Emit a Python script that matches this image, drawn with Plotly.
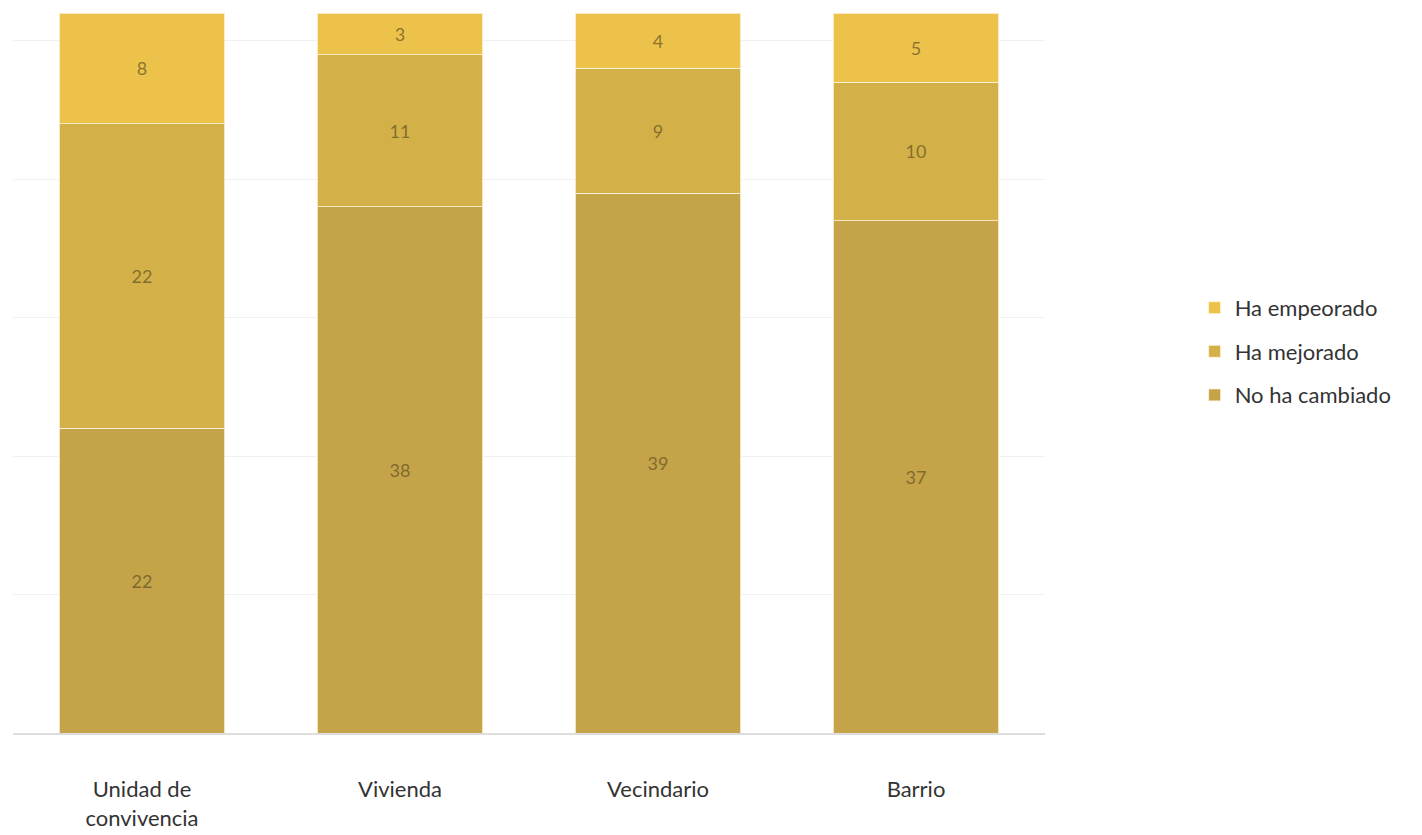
import plotly.graph_objects as go

categories = ["Unidad de<br>convivencia", "Vivienda", "Vecindario", "Barrio"]
no_ha_cambiado = [22, 38, 39, 37]
ha_mejorado = [22, 11, 9, 10]
ha_empeorado = [8, 3, 4, 5]

# stacked bottom to top; legend lists them top to bottom
series = [
    ("No ha cambiado", no_ha_cambiado, "#C4A349", 3),
    ("Ha mejorado", ha_mejorado, "#D3B048", 2),
    ("Ha empeorado", ha_empeorado, "#ECC24A", 1),
]

FONT = "Lato, 'Open Sans', sans-serif"

fig = go.Figure()
for name, vals, color, rank in series:
    fig.add_trace(go.Bar(
        x=categories,
        y=vals,
        name=name,
        legendgroup=name,
        legendrank=rank,
        marker=dict(color=color, line=dict(color="rgba(255,245,220,0.8)", width=1)),
        text=vals,
        textposition="inside",
        insidetextanchor="middle",
        textangle=0,
        insidetextfont=dict(family=FONT, size=18, color="rgba(95,80,35,0.7)"),
        hoverinfo="skip",
    ))

fig.update_layout(
    barmode="stack",
    bargap=0.357,
    width=1422,
    height=835,
    margin=dict(l=13, r=377, t=13, b=102),
    paper_bgcolor="white",
    plot_bgcolor="white",
    font=dict(family=FONT, color="#333333", size=22),
    showlegend=True,
    legend=dict(
        x=1.145, xanchor="left",
        y=0.53, yanchor="middle",
        traceorder="grouped",
        tracegroupgap=12,
        font=dict(family=FONT, size=22, color="#333333"),
        itemclick=False,
    ),
    xaxis=dict(
        showgrid=False,
        showline=True,
        linecolor="#dddddd",
        linewidth=2,
        ticks="",
        automargin=False,
        ticklabelstandoff=36,
        tickfont=dict(family=FONT, size=22, color="#333333"),
    ),
    yaxis=dict(
        range=[0, 52],
        dtick=10,
        showgrid=True,
        gridcolor="#f0f0f0",
        gridwidth=1,
        zeroline=False,
        showticklabels=False,
        ticks="",
        automargin=False,
    ),
)

fig.write_html("out.html")
